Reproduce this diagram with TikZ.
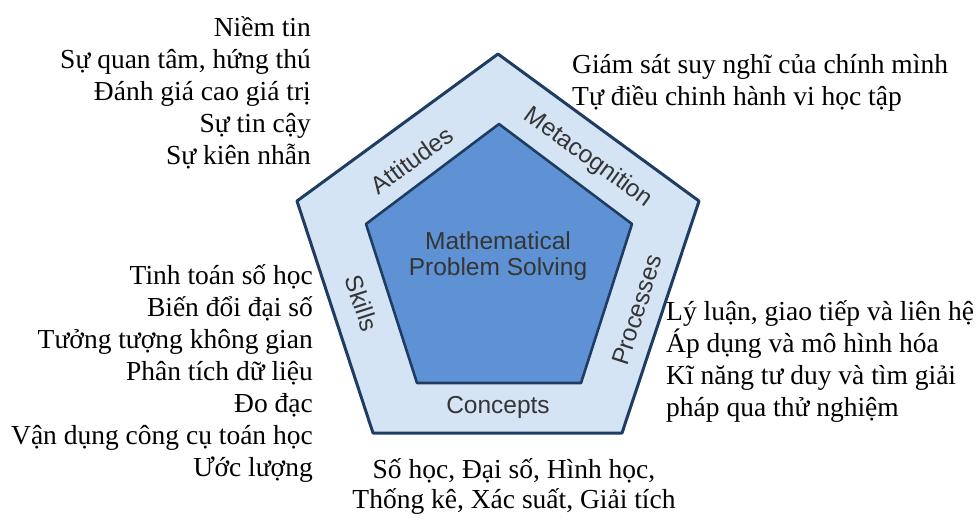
\documentclass[tikz,border=0pt]{standalone}
\usepackage{fontspec}
\setmainfont{Liberation Serif}
\newfontfamily\labelfont{Liberation Sans}
\definecolor{edgeblue}{HTML}{1F3D63}
\definecolor{outerfill}{HTML}{D5E4F5}
\definecolor{innerfill}{HTML}{5E92D4}
\definecolor{labelgray}{HTML}{353535}
\tikzset{
  band/.style={draw=edgeblue, line width=3pt, line join=round, fill=outerfill},
  core/.style={draw=edgeblue, line width=2.6pt, line join=round, fill=innerfill},
  facet/.style={font=\labelfont\fontsize{24.5}{25}\selectfont, text=labelgray, inner sep=0pt},
  listtext/.style={font=\fontsize{27.5}{32}\selectfont, inner sep=0pt, text=black},
}
\begin{document}
\begin{tikzpicture}[x=1pt,y=-1pt]
\useasboundingbox (0,0) rectangle (977,520);
% outer pentagon
\coordinate (oT) at (498,54);
\coordinate (oL) at (297,201);
\coordinate (oR) at (699,201);
\coordinate (oBL) at (373,433);
\coordinate (oBR) at (622,433);
\draw[band] (oT) -- (oR) -- (oBR) -- (oBL) -- (oL) -- cycle;
% inner pentagon
\coordinate (iT) at (499,124);
\coordinate (iL) at (366,224);
\coordinate (iR) at (632,224);
\coordinate (iBL) at (417,383);
\coordinate (iBR) at (581,383);
\draw[core] (iT) -- (iR) -- (iBR) -- (iBL) -- (iL) -- cycle;
% center label
\node[facet, align=center, font=\labelfont\fontsize{24.5}{25.5}\selectfont] (mps) at (498,256) {Mathematical\\Problem Solving};
% band labels
\node[facet, rotate=36] (att) at (412,160) {Attitudes};
\node[facet, rotate=-36] (meta) at (588,158) {Metacognition};
\node[facet, rotate=-72] (skl) at (362,303) {Skills};
\node[facet, rotate=72] (proc) at (637,310) {Processes};
\node[facet] (conc) at (498,407) {Concepts};
% lists
\node[listtext, align=right, anchor=north east] (attl) at (311,16)
  {Niềm tin\\Sự quan tâm, hứng thú\\Đánh giá cao giá trị\\Sự tin cậy\\Sự kiên nhẫn};
\node[listtext, align=left, anchor=north west] (metal) at (572,54)
  {Giám sát suy nghĩ của chính mình\\Tự điều chinh hành vi học tập};
\node[listtext, align=right, anchor=north east] (skll) at (313,264)
  {Tinh toán số học\\Biến đổi đại số\\Tưởng tượng không gian\\Phân tích dữ liệu\\Đo đạc\\Vận dụng công cụ toán học\\Ước lượng};
\node[listtext, align=left, anchor=north west] (procl) at (666,300)
  {Lý luận, giao tiếp và liên hệ\\Áp dụng và mô hình hóa\\Kĩ năng tư duy và tìm giải\\pháp qua thử nghiệm};
\node[listtext, align=center, anchor=north, font=\fontsize{27.5}{30}\selectfont] (concl) at (514,458)
  {Số học, Đại số, Hình học,\\Thống kê, Xác suất, Giải tích};
\end{tikzpicture}
\end{document}
